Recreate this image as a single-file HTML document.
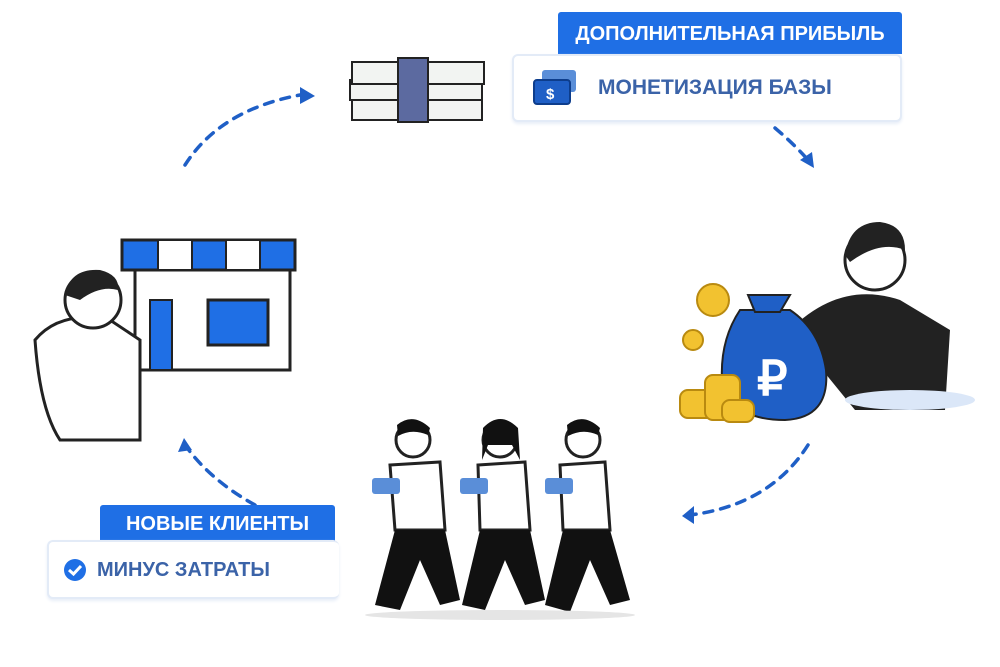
<!DOCTYPE html>
<html><head><meta charset="utf-8"><style>
body{margin:0;width:1000px;height:667px;background:#fff;position:relative;overflow:hidden;font-family:"Liberation Sans",sans-serif}
.tag{position:absolute;background:#1f6fe5;color:#fff;font-weight:bold;border-radius:3px 3px 0 0}
.card{position:absolute;background:#fff;border:2px solid #e3ebf7;border-radius:6px;color:#3b63a8;font-weight:bold;box-shadow:0 2px 3px #e8eef8}
</style></head><body>
<svg width="1000" height="667" style="position:absolute;left:0;top:0">
<g fill="none" stroke="#1f5fc6" stroke-width="3.5" stroke-dasharray="9 8" stroke-linecap="round">
<path d="M185 165 Q220 110 300 95"/>
<path d="M775 128 Q795 145 808 160"/>
<path d="M808 445 Q770 505 690 515"/>
<path d="M255 505 Q210 480 185 445"/>
</g>
<g fill="#1f5fc6">
<polygon points="300,87 315,96 300,104"/>
<polygon points="800,160 814,168 812,152"/>
<polygon points="694,506 682,516 694,524"/>
<polygon points="178,452 184,438 192,450"/>
</g>
<!-- money stack -->
<g stroke="#222" stroke-width="2" fill="#f2f4f2">
<rect x="352" y="95" width="130" height="25"/><rect x="350" y="80" width="132" height="20"/><rect x="352" y="62" width="132" height="22"/>
<rect x="398" y="58" width="30" height="64" fill="#5c6aa0"/>
</g>
<!-- shop -->
<rect x="135" y="270" width="155" height="100" fill="#fff" stroke="#222" stroke-width="3"/>
<path d="M122 240 L295 240 L295 270 L122 270Z" fill="#1f6fe5" stroke="#222" stroke-width="3"/>
<g fill="#fff" stroke="#222" stroke-width="2"><rect x="158" y="240" width="34" height="30"/><rect x="226" y="240" width="34" height="30"/></g>
<rect x="150" y="300" width="22" height="70" fill="#1f6fe5" stroke="#222" stroke-width="2"/>
<rect x="208" y="300" width="60" height="45" fill="#1f6fe5" stroke="#222" stroke-width="3"/>
<!-- left man -->
<path d="M35 340 Q60 310 110 320 L140 340 L140 440 L60 440 Q40 410 35 340Z" fill="#fff" stroke="#222" stroke-width="3"/>
<circle cx="93" cy="300" r="28" fill="#fff" stroke="#222" stroke-width="3"/>
<path d="M65 295 Q70 268 100 270 Q120 275 118 290 Q100 285 80 300Z" fill="#222"/>
<!-- businessman -->
<path d="M790 330 Q840 280 900 300 L950 330 L945 410 L855 410Z" fill="#222"/>
<circle cx="875" cy="260" r="30" fill="#fff" stroke="#222" stroke-width="3"/>
<path d="M845 255 Q850 222 880 222 Q905 225 905 250 Q880 240 850 262Z" fill="#222"/>
<ellipse cx="910" cy="400" rx="65" ry="10" fill="#dbe7f8"/>
<path d="M740 310 Q720 340 722 380 Q730 420 785 420 Q830 418 826 370 Q820 330 790 310Z" fill="#1f5fc6" stroke="#222" stroke-width="2"/>
<path d="M748 295 L790 295 L780 312 L755 312Z" fill="#1f5fc6" stroke="#222" stroke-width="2"/>
<text x="757" y="395" font-size="48" font-weight="bold" fill="#fff" font-family="Liberation Sans">₽</text>
<g fill="#f2c230" stroke="#b98a10" stroke-width="2">
<circle cx="713" cy="300" r="16"/><circle cx="693" cy="340" r="10"/>
<rect x="680" y="390" width="35" height="28" rx="8"/><rect x="705" y="375" width="35" height="45" rx="8"/><rect x="722" y="400" width="32" height="22" rx="8"/>
</g>
<!-- walkers -->
<g fill="#fff" stroke="#222" stroke-width="3">
<circle cx="413" cy="440" r="17"/><circle cx="500" cy="440" r="17"/><circle cx="583" cy="440" r="17"/>
<path d="M390 465 L440 462 L445 530 L395 530Z"/><path d="M478 465 L525 462 L530 530 L480 530Z"/><path d="M560 465 L605 462 L610 530 L563 530Z"/>
</g>
<g fill="#111">
<path d="M395 530 L445 530 L460 600 L440 605 L420 560 L400 610 L375 605Z"/>
<path d="M480 530 L530 530 L545 600 L525 605 L505 560 L485 610 L462 605Z"/>
<path d="M563 530 L610 530 L630 600 L610 605 L590 560 L570 612 L545 605Z"/>
<path d="M397 425 Q413 412 430 428 L428 435 Q412 428 398 436Z"/><path d="M483 428 Q500 410 518 428 L520 460 L512 445 L488 445 L482 460Z"/><path d="M567 425 Q583 412 600 428 L598 435 Q583 428 568 436Z"/>
</g>
<ellipse cx="500" cy="615" rx="135" ry="5" fill="#e5e5e5"/>
<g fill="#5a8ed8"><rect x="372" y="478" width="28" height="16" rx="3"/><rect x="460" y="478" width="28" height="16" rx="3"/><rect x="545" y="478" width="28" height="16" rx="3"/></g>
</svg>
<div class="tag" style="left:558px;top:12px;width:344px;height:42px;font-size:20px;line-height:44px;text-align:center">ДОПОЛНИТЕЛЬНАЯ ПРИБЫЛЬ</div>
<div class="card" style="left:512px;top:54px;width:386px;height:64px">
<svg width="48" height="40" style="position:absolute;left:18px;top:12px"><rect x="10" y="2" width="34" height="22" rx="3" fill="#5a8ed8"/><rect x="2" y="12" width="36" height="24" rx="3" fill="#1f5fc6" stroke="#0d3d8c" stroke-width="2"/><text x="14" y="31" fill="#fff" font-size="15" font-weight="bold" font-family="Liberation Sans">$</text></svg>
<span style="position:absolute;left:84px;top:20px;font-size:21px">МОНЕТИЗАЦИЯ БАЗЫ</span></div>
<div class="tag" style="left:100px;top:505px;width:235px;height:36px;font-size:20px;line-height:38px;text-align:center">НОВЫЕ КЛИЕНТЫ</div>
<div class="card" style="left:47px;top:540px;width:290px;height:55px;border-right:none">
<svg width="24" height="24" style="position:absolute;left:14px;top:16px"><circle cx="12" cy="12" r="11" fill="#1f6fe5"/><path d="M6 12 L10.5 16 L18 8" stroke="#fff" stroke-width="3" fill="none"/></svg>
<span style="position:absolute;left:48px;top:17px;font-size:20px">МИНУС ЗАТРАТЫ</span></div>
</body></html>
